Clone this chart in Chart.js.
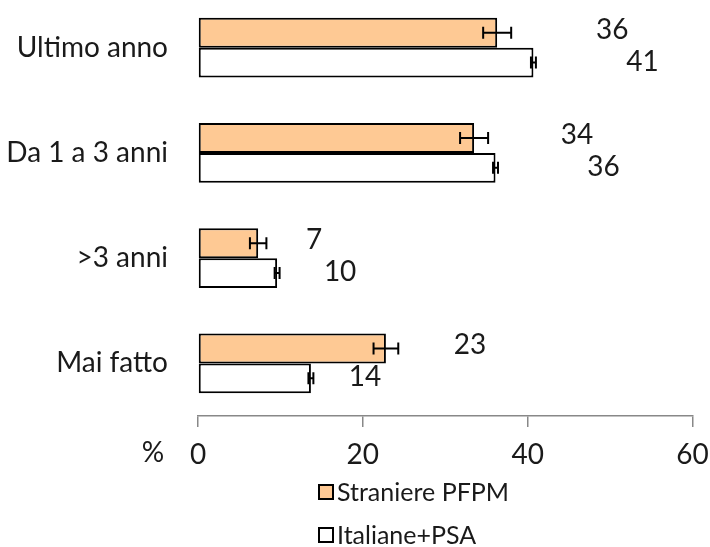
<!DOCTYPE html>
<html>
<head>
<meta charset="utf-8">
<script src="https://cdn.jsdelivr.net/npm/chart.js@4/dist/chart.umd.min.js"></script>
<style>
  html, body { margin: 0; padding: 0; background: #fff; overflow: hidden; }
  #wrap { position: absolute; left: 0; top: -5px; width: 710px; height: 552px; }
</style>
</head>
<body>
<div id="wrap"><canvas id="c" width="710" height="552"></canvas></div>
<script>
var categories = ['Ultimo anno', 'Da 1 a 3 anni', '>3 anni', 'Mai fatto'];
var seriesNames = ['Straniere PFPM', 'Italiane+PSA'];
var straniere = [36.3, 33.5, 7.3, 22.8];
var italiane = [40.7, 36.1, 9.6, 13.7];
var straniereErr = [1.7, 1.7, 1.0, 1.5];
var italianeErr = [0.3, 0.3, 0.3, 0.3];
var xTicks = [0, 20, 40, 60];

var FONT = 'Lato';
var errors = [straniereErr, italianeErr];
// pixel offsets of the value labels from the bar end, and vertical nudge
var labelDx = [[115, 109], [103, 108], [56, 63], [84, 54]];
var labelDy = [-3, -1];

var extras = {
  id: 'extras',
  afterDatasetsDraw: function(chart) {
    var ctx = chart.ctx, x = chart.scales.x;
    ctx.save();
    chart.data.datasets.forEach(function(ds, i) {
      var meta = chart.getDatasetMeta(i);
      meta.data.forEach(function(bar, j) {
        var v = ds.data[j], e = errors[i][j];
        var x1 = x.getPixelForValue(v - e), x2 = x.getPixelForValue(v + e);
        ctx.strokeStyle = '#000';
        ctx.lineWidth = 2;
        ctx.beginPath();
        ctx.moveTo(x1, bar.y); ctx.lineTo(x2, bar.y);
        ctx.moveTo(x1, bar.y - 6); ctx.lineTo(x1, bar.y + 6);
        ctx.moveTo(x2, bar.y - 6); ctx.lineTo(x2, bar.y + 6);
        ctx.stroke();
        // value label
        ctx.fillStyle = '#1a1a1a';
        ctx.font = '28px ' + FONT;
        ctx.textAlign = 'center';
        ctx.textBaseline = 'middle';
        ctx.fillText(String(Math.round(v)), x.getPixelForValue(v) + labelDx[j][i], bar.y + labelDy[i]);
      });
    });
    ctx.restore();
  },
  afterDraw: function(chart) {
    var ctx = chart.ctx;
    ctx.save();
    ctx.fillStyle = '#1a1a1a';
    ctx.font = '28px ' + FONT;
    ctx.textAlign = 'center';
    ctx.textBaseline = 'middle';
    ctx.fillText('%', 153, 458);
    // vertical legend
    chart.data.datasets.forEach(function(ds, i) {
      var y = 497 + i * 43;
      ctx.fillStyle = ds.backgroundColor;
      ctx.fillRect(319, y - 7, 14, 14);
      ctx.strokeStyle = '#000';
      ctx.lineWidth = 2;
      ctx.strokeRect(319, y - 7, 14, 14);
      ctx.fillStyle = '#1a1a1a';
      ctx.font = '25px ' + FONT;
      ctx.textAlign = 'left';
      ctx.fillText(ds.label, 337, y + 1);
    });
    ctx.restore();
  }
};

new Chart(document.getElementById('c'), {
  type: 'bar',
  data: {
    labels: categories,
    datasets: [
      { label: seriesNames[0], data: straniere, backgroundColor: '#FEC994', borderColor: '#000', borderWidth: 2, borderSkipped: false },
      { label: seriesNames[1], data: italiane, backgroundColor: '#FFFFFF', borderColor: '#000', borderWidth: 2, borderSkipped: false }
    ]
  },
  options: {
    indexAxis: 'y',
    responsive: false,
    animation: false,
    layout: { padding: { left: 0, right: 17.5, top: 0, bottom: 61 } },
    datasets: { bar: { categoryPercentage: 0.57, barPercentage: 1 } },
    plugins: { legend: { display: false }, tooltip: { enabled: false } },
    scales: {
      x: {
        min: 0, max: 60,
        afterBuildTicks: function(s) { s.ticks = xTicks.map(function(v) { return { value: v }; }); },
        afterFit: function(s) { s.height = 70; s.paddingLeft = 0; s.paddingRight = 0; },
        grid: { drawOnChartArea: false, tickLength: 11, color: '#888', lineWidth: 1.5 },
        border: { display: true, color: '#888', width: 1.5 },
        ticks: { color: '#1a1a1a', font: { family: FONT, size: 28 }, padding: 11, maxRotation: 0 }
      },
      y: {
        afterFit: function(s) { s.width = 198; s.paddingTop = 0; s.paddingBottom = 0; },
        grid: { display: false, drawTicks: true, tickLength: 28 },
        border: { display: false },
        ticks: { color: '#1a1a1a', font: { family: FONT, size: 28 }, padding: 2 }
      }
    }
  },
  plugins: [extras]
});
</script>
</body>
</html>
